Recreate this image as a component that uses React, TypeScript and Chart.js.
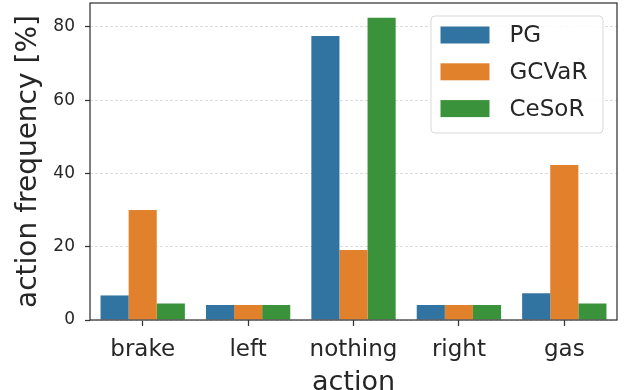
import React, { useEffect, useRef } from "react";
import { Chart, registerables } from "chart.js";

Chart.register(...registerables);

const categories = ["brake", "left", "nothing", "right", "gas"];
const seriesNames = ["PG", "GCVaR", "CeSoR"];
const pgValues = [6.7, 4.1, 77.5, 4.1, 7.3];
const gcvarValues = [30.0, 4.1, 19.1, 4.1, 42.3];
const cesorValues = [4.5, 4.1, 82.5, 4.1, 4.5];
const yTicks = [0, 20, 40, 60, 80];
const yMax = 86.5;
const colors = ["#3274a1", "#e1812c", "#3a923a"];

const TEXT = "#262626";
const FONT = "'DejaVu Sans', sans-serif";

const framePlugin = {
  id: "frame",
  afterDatasetsDraw(chart: any) {
    const { ctx, chartArea } = chart;
    ctx.save();
    ctx.strokeStyle = "#333333";
    ctx.lineWidth = 1.25;
    ctx.strokeRect(chartArea.left, chartArea.top, chartArea.right - chartArea.left, chartArea.bottom - chartArea.top);
    ctx.restore();
  },
};

const legendPlugin = {
  id: "customLegend",
  afterDraw(chart: any) {
    const { ctx, chartArea } = chart;
    const boxRight = chartArea.right - 14;
    const boxLeft = boxRight - 172;
    const boxTop = chartArea.top + 13;
    const boxH = 117;
    ctx.save();
    ctx.beginPath();
    const r = 4;
    const w = boxRight - boxLeft;
    ctx.moveTo(boxLeft + r, boxTop);
    ctx.arcTo(boxLeft + w, boxTop, boxLeft + w, boxTop + boxH, r);
    ctx.arcTo(boxLeft + w, boxTop + boxH, boxLeft, boxTop + boxH, r);
    ctx.arcTo(boxLeft, boxTop + boxH, boxLeft, boxTop, r);
    ctx.arcTo(boxLeft, boxTop, boxLeft + w, boxTop, r);
    ctx.closePath();
    ctx.fillStyle = "rgba(255,255,255,0.85)";
    ctx.fill();
    ctx.strokeStyle = "#d9d9d9";
    ctx.lineWidth = 1;
    ctx.stroke();
    ctx.font = `23px ${FONT}`;
    ctx.textBaseline = "middle";
    ctx.textAlign = "left";
    chart.data.datasets.forEach((ds: any, i: number) => {
      const cy = boxTop + 19 + i * 36.8;
      ctx.fillStyle = ds.backgroundColor;
      ctx.fillRect(boxLeft + 9.5, cy - 8.5, 49, 17);
      ctx.fillStyle = TEXT;
      ctx.fillText(ds.label, boxLeft + 78.5, cy + 1);
    });
    ctx.restore();
  },
};

export default function App() {
  const ref = useRef<HTMLCanvasElement>(null);
  useEffect(() => {
    const datasetValues = [pgValues, gcvarValues, cesorValues];
    const chart = new Chart(ref.current as HTMLCanvasElement, {
      type: "bar",
      data: {
        labels: categories,
        datasets: seriesNames.map((name, i) => ({
          label: name,
          data: datasetValues[i],
          backgroundColor: colors[i],
          borderWidth: 0,
          categoryPercentage: 0.8,
          barPercentage: 1.0,
        })),
      },
      options: {
        responsive: false,
        animation: false,
        layout: { padding: { top: 3, right: 11, left: 0, bottom: 0 } },
        plugins: { legend: { display: false }, tooltip: { enabled: false } },
        scales: {
          x: {
            offset: true,
            grid: {
              offset: false,
              drawOnChartArea: false,
              drawTicks: true,
              tickLength: 6,
              tickColor: "#333333",
              tickWidth: 1.25,
            },
            border: { display: false },
            ticks: { color: TEXT, font: { family: FONT, size: 23 }, padding: 10, maxRotation: 0 },
            title: {
              display: true,
              text: "action",
              color: TEXT,
              font: { family: FONT, size: 27, lineHeight: 1 },
              padding: { top: 0, bottom: -6 },
            },
            afterFit(scale: any) {
              scale.height = 70;
              scale.paddingLeft = 0;
              scale.paddingRight = 0;
            },
          },
          y: {
            min: 0,
            max: yMax,
            afterBuildTicks(scale: any) {
              scale.ticks = yTicks.map((v) => ({ value: v }));
            },
            grid: {
              color: "#dddddd",
              lineWidth: 1,
              drawTicks: true,
              tickLength: 5,
              tickColor: "#333333",
              tickWidth: 1.25,
            },
            border: { display: false, dash: [3, 2] },
            ticks: { color: TEXT, font: { family: FONT, size: 17 }, padding: 10 },
            title: {
              display: true,
              text: "action frequency [%]",
              color: TEXT,
              font: { family: FONT, size: 28, lineHeight: 1 },
              padding: { top: 15, bottom: 0 },
            },
            afterFit(scale: any) {
              scale.width = 90;
              scale.paddingTop = 0;
              scale.paddingBottom = 0;
            },
          },
        },
      },
      plugins: [framePlugin, legendPlugin],
    });
    return () => chart.destroy();
  }, []);
  return (
    <div style={{ position: "fixed", left: 0, top: 0, width: 628, height: 390, background: "#fff" }}>
      <canvas ref={ref} width={628} height={390} style={{ display: "block" }} />
    </div>
  );
}
